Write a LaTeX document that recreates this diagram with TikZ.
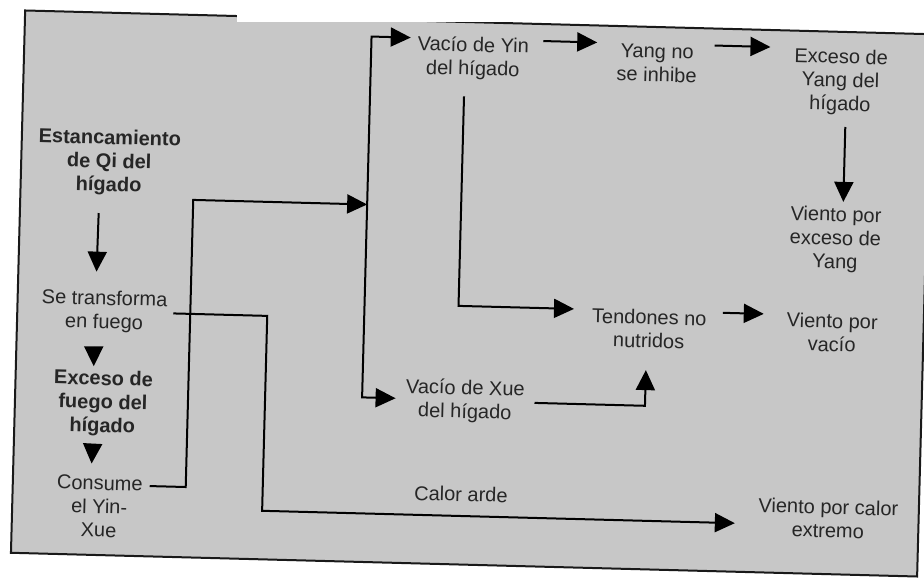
\documentclass[tikz,border=0pt]{standalone}
\usepackage{fontspec}
\setmainfont{Liberation Sans}
\usepackage{xcolor}
\usepackage{tikz}
\usetikzlibrary{arrows.meta,positioning}

\begin{document}
\begin{tikzpicture}[
    x=1pt, y=-1pt,
    lbl/.style={align=center, inner sep=0pt, text=black!85, font=\fontsize{20}{23.5}\selectfont},
    lblbold/.style={lbl, font=\fontsize{20}{23.5}\selectfont\bfseries},
    line/.style={draw, line width=2pt},
    >={Triangle[length=20pt, width=19pt]}
]
\useasboundingbox (0,0) rectangle (924,578);
\clip (0,0) rectangle (924,578);
\fill[white] (0,0) rectangle (924,578);

\begin{scope}[rotate around={-1.5:(462,289)}, transform shape]
% Frame
\filldraw[fill=black!22, draw=black!90, line width=2pt] (18,22) rectangle (924.5,564.5);

% Entities
\node[lblbold] (qi) at (106,172) {Estancamiento\\de Qi del\\hígado};
\node[lbl] (fuego) at (105,321) {Se transforma\\en fuego};
\node[lblbold] (exceso) at (106,413) {Exceso de\\fuego del\\hígado};
\node[lbl] (consume) at (105,516) {Consume\\el Yin-\\Xue};
\node[lbl] (yin) at (467,58) {Vacío de Yin\\del hígado};
\node[lbl] (yang) at (651,58) {Yang no\\se inhibe};
\node[lbl] (exyang) at (835,72) {Exceso de\\Yang del\\hígado};
\node[lbl] (vpy) at (834,230) {Viento por\\exceso de\\Yang};
\node[lbl] (tend) at (650,324) {Tendones no\\nutridos};
\node[lbl] (vv) at (833,323) {Viento por\\vacío};
\node[lbl] (xue) at (468,401) {Vacío de Xue\\del hígado};
\node[lbl] (vce) at (834,509) {Viento por calor\\extremo};

% Spine
\coordinate (spinetop) at (365,39);
\coordinate (spinemid) at (365,207);
\coordinate (spinebot) at (365,400);

% Relationships
\path[line,->, shorten <=17.5pt, shorten >=18.5pt] ([xshift=-9pt]qi.south) -- ([xshift=-9pt]fuego.north);
\path[line,->, shorten <=14pt, shorten >=4pt] ([xshift=-10pt]fuego.south) -- ([xshift=-10pt]exceso.north);
\path[line,->, shorten <=8pt, shorten >=12pt] ([xshift=-9pt]exceso.south) -- ([xshift=-9pt]consume.north);
\path[line,->, shorten <=7pt] ([yshift=-9pt]consume.north east) -- ++(43,0) |- (spinemid);
\path[line,<->, shorten <=7pt, shorten >=10pt] (spinetop -| yin.west) -- (spinetop) -- (spinebot) -- (spinebot -| xue.west);
\path[line,->, shorten <=14pt, shorten >=20pt] (yin.east |- spinetop) -- (yang.west |- spinetop);
\path[line,->, shorten <=17pt, shorten >=24pt] (yang.east |- spinetop) -- (exyang.west |- spinetop);
\path[line,->, shorten <=12pt, shorten >=5pt] ([xshift=6pt]exyang.south) -- ([xshift=7pt]vpy.north);
\path[line,->, shorten <=17pt, shorten >=18pt] ([xshift=-8pt]yin.south) |- ([yshift=18pt]tend.west);
\path[line,->, shorten <=16pt, shorten >=23pt] ([yshift=18pt]tend.east) -- ([yshift=17pt]vv.west);
\path[line,->, shorten <=10pt, shorten >=22pt] (xue.east) -| ([xshift=-2pt]tend.south);
\path[line,->, shorten <=6pt, shorten >=23pt] (fuego.east) -- ++(100,0) |- ([yshift=-7pt]vce.west)
    node[lbl, pos=0.7, above=13.5pt] (calor) {Calor arde};
\end{scope}

% Paper patch
\fill[white] (237,-1) rectangle (925,22);
\end{tikzpicture}
\end{document}
